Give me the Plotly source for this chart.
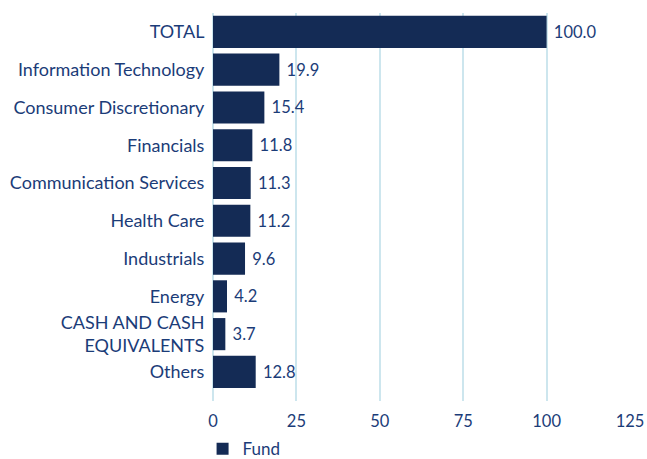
import plotly.graph_objects as go

categories = ["TOTAL", "Information Technology", "Consumer Discretionary", "Financials",
              "Communication Services", "Health Care", "Industrials", "Energy",
              "CASH AND CASH<br>EQUIVALENTS", "Others"]
fund = [100.0, 19.9, 15.4, 11.8, 11.3, 11.2, 9.6, 4.2, 3.7, 12.8]
x_ticks = [0, 25, 50, 75, 100, 125]

navy = "#142b55"
text_blue = "#1b3c78"
grid_blue = "#cde6ee"

# plotly draws the first category at the bottom, so flip the lists
trace = go.Bar(
    y=categories[::-1],
    x=fund[::-1],
    orientation="h",
    name="Fund",
    marker=dict(color=navy, line=dict(width=0)),
    width=0.85,
    texttemplate=" %{x:.1f}",
    textposition="outside",
    textfont=dict(color=text_blue, size=16.5, family="Lato"),
    cliponaxis=False,
)

fig = go.Figure(trace)
fig.update_layout(
    width=647, height=459,
    margin=dict(l=213, r=17, t=13, b=58, autoexpand=False),
    paper_bgcolor="white", plot_bgcolor="white",
    font=dict(family="Lato", size=17, color=text_blue),
    showlegend=True,
    legend=dict(orientation="h", x=-0.025, xanchor="left", y=-0.078, yanchor="top",
                font=dict(size=17, color=text_blue), itemwidth=30),
    bargap=0.15,
)
fig.update_xaxes(range=[0, 125], tickvals=x_ticks, showgrid=True, gridcolor=grid_blue,
                 gridwidth=1.5, zeroline=True, zerolinecolor=grid_blue, zerolinewidth=1.5,
                 showline=False, ticks="", ticklabelstandoff=8, automargin=False,
                 tickfont=dict(size=16.5))
fig.update_yaxes(range=[-0.77, 9.5], showgrid=False, ticks="outside", ticklen=4,
                 tickcolor="rgba(0,0,0,0)", showline=False, automargin=False,
                 tickfont=dict(size=18))

# drop the browser's default body margin so the figure sits at the page corner
fig.write_html("out.html", config={"displayModeBar": False},
               post_script="document.body.style.margin='0';")
